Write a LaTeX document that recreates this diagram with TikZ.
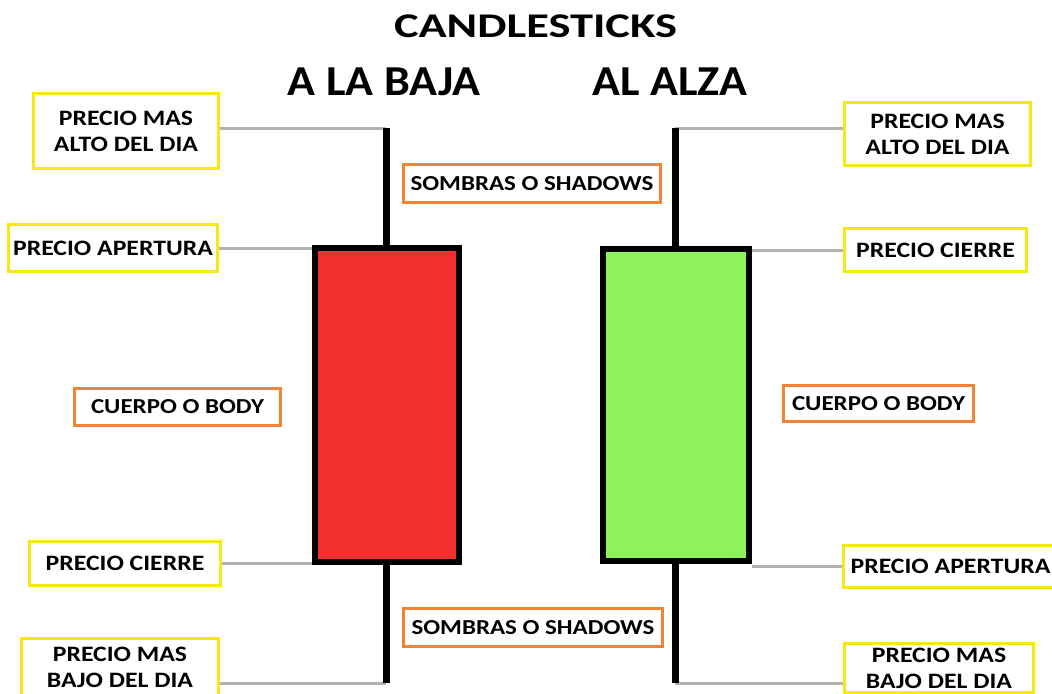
\documentclass[tikz,border=0pt]{standalone}
\usepackage{fontspec}
\setmainfont{Carlito}
\newfontfamily\labfont[FakeStretch=1.17]{Carlito}
\newfontfamily\headfont[FakeStretch=1.08]{Carlito}
\newfontfamily\titlefont[FakeStretch=1.34]{Carlito}
\definecolor{boxyellow}{RGB}{246,232,20}
\definecolor{boxorange}{RGB}{240,132,52}
\definecolor{bearred}{RGB}{242,46,46}
\definecolor{bullgreen}{RGB}{142,242,90}
\definecolor{leadgray}{RGB}{178,178,178}
\tikzset{
  lab/.style={draw=boxyellow,line width=2.25pt,fill=white,align=center,inner sep=0pt,
    font=\labfont\fontsize{16.5}{19.5}\selectfont\bfseries},
  tag/.style={draw=boxorange,line width=2.25pt,fill=white,align=center,inner sep=0pt,
    font=\labfont\fontsize{16}{19}\selectfont\bfseries},
  lead/.style={draw=leadgray,line width=2.25pt},
  wick/.style={line width=5.25pt},
  candle/.style={draw=black,line width=4.5pt}
}
\begin{document}
\begin{tikzpicture}[x=0.75pt,y=-0.75pt]
\useasboundingbox[fill=white] (0,0) rectangle (1052,693);
\clip (0,0) rectangle (1052,693);
\node[font=\titlefont\fontsize{26}{30}\selectfont\bfseries] (title) at (535.5,26) {CANDLESTICKS};
\node[font=\headfont\fontsize{32}{36}\selectfont\bfseries] (baja) at (384,82) {A LA BAJA};
\node[font=\headfont\fontsize{32}{36}\selectfont\bfseries] (alza) at (670,82) {AL ALZA};
\coordinate (rhi) at (386,128);
\coordinate (rlo) at (386,683);
\coordinate (ghi) at (675,128);
\coordinate (glo) at (675,683);
\node[candle,fill=bearred,minimum width=108pt,minimum height=235.5pt] (redbody) at (387,405) {};
\node[candle,fill=bullgreen,minimum width=109.5pt,minimum height=234pt] (greenbody) at (676,405) {};
% left labels
\node[lab,minimum width=138.75pt,minimum height=56.25pt] (hiL) at (126,131) {PRECIO MAS\\ALTO DEL DIA};
\node[lab,minimum width=156.75pt,minimum height=35.25pt] (apL) at (113,248) {PRECIO APERTURA};
\node[lab,minimum width=143.25pt,minimum height=33pt] (ciL) at (125,563.5) {PRECIO CIERRE};
\node[lab,minimum width=147.75pt,minimum height=42.75pt] (loL) at (120,667) {PRECIO MAS\\BAJO DEL DIA};
% right labels
\node[lab,minimum width=139.5pt,minimum height=47.25pt] (hiR) at (937.5,134) {PRECIO MAS\\ALTO DEL DIA};
\node[lab,minimum width=136.5pt,minimum height=32.25pt] (ciR) at (935.5,250) {PRECIO CIERRE};
\node[lab,minimum width=160.5pt,minimum height=31.5pt] (apR) at (950.5,566.5) {PRECIO APERTURA};
\node[lab,minimum width=141.75pt,minimum height=36.75pt] (loR) at (939,668) {PRECIO MAS\\BAJO DEL DIA};
% tags
\node[tag,minimum width=192.75pt,minimum height=28.5pt] (shT) at (532,183.5) {SOMBRAS O SHADOWS};
\node[tag,minimum width=194.25pt,minimum height=28.5pt] (shB) at (533,627.5) {SOMBRAS O SHADOWS};
\node[tag,minimum width=154.5pt,minimum height=27.75pt] (cuL) at (177.5,407) {CUERPO O BODY};
\node[tag,minimum width=142.5pt,minimum height=27pt] (cuR) at (878.5,403.5) {CUERPO O BODY};
% leads
\draw[lead] (hiL.east |- rhi) -- (rhi);
\draw[lead] (apL.east) -- (apL.east -| redbody.west);
\draw[lead] (ciL.east) -- (ciL.east -| redbody.west);
\draw[lead] (loL.east |- rlo) -- (rlo);
\draw[lead] (ghi) -- (hiR.west |- ghi);
\draw[lead] (ciR.west -| greenbody.east) -- (ciR.west);
\draw[lead] (apR.west -| greenbody.east) -- (apR.west);
\draw[lead] (glo) -- (loR.west |- glo);
% wicks
\draw[wick] (rhi) -- (rhi |- redbody.north);
\draw[wick] (rlo) -- (rlo |- redbody.south);
\draw[wick] (ghi) -- (ghi |- greenbody.north);
\draw[wick] (glo) -- (glo |- greenbody.south);
\end{tikzpicture}
\end{document}
